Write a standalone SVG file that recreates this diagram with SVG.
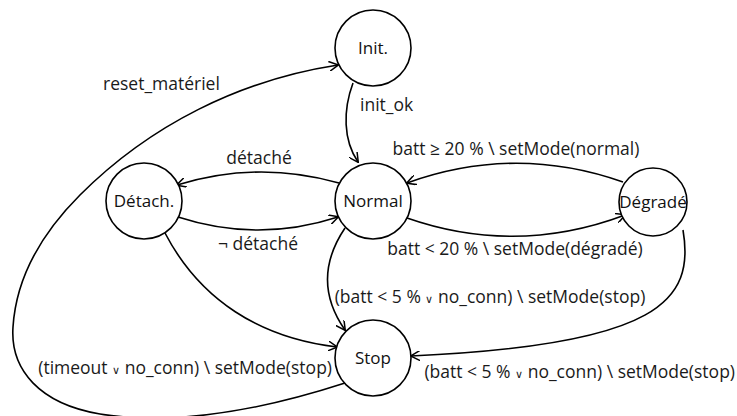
<svg xmlns="http://www.w3.org/2000/svg" width="737" height="416" viewBox="0 0 737 416">
<defs>
<marker id="arr" viewBox="0 0 10 10" refX="9" refY="5" markerWidth="10" markerHeight="10" markerUnits="userSpaceOnUse" orient="auto">
<path d="M0,0 L9.5,5 L0,10" fill="none" stroke="#000" stroke-width="1.5"/>
</marker>
<style>
.n circle{fill:#fff;stroke:#000;stroke-width:1.6}
.n text{font-family:"Open Sans","Noto Sans",sans-serif;font-size:17px;text-anchor:middle;fill:#111}
.e path{fill:none;stroke:#000;stroke-width:1.6;marker-end:url(#arr)}
.l{font-family:"Open Sans","Noto Sans",sans-serif;font-size:17.5px;fill:#1a1a1a}
.v{font-size:11px}
</style>
</defs>
<g id="edges" class="e">
<path d="M353,83 C343,110 343,140 358,162"/>
<path d="M339,183 Q258,160 177,185"/>
<path d="M178,217 Q258,243 338,217"/>
<path d="M623,182 Q515,144 407,183"/>
<path d="M407,218 Q516,256 625,215"/>
<path d="M345,228 Q310,280 345,330"/>
<path d="M165,233 C200,300 260,338 337,347"/>
<path d="M683,230 C695,300 660,345 411,356"/>
<path d="M345,383 Q200,430 100,414 C40,404 10,370 13,327 C16,280 40,235 80,195 C150,125 240,80 338,65"/>
</g>
<g id="labels" class="l">
<text x="103" y="90">reset_matériel</text>
<text x="360" y="111">init_ok</text>
<text x="259" y="164" text-anchor="middle">détaché</text>
<text x="258" y="250" text-anchor="middle">¬ détaché</text>
<text x="516" y="155" text-anchor="middle">batt ≥ 20 % \ setMode(normal)</text>
<text x="515" y="255" text-anchor="middle">batt &lt; 20 % \ setMode(dégradé)</text>
<text x="490" y="303" text-anchor="middle">(batt &lt; 5 % <tspan class="v">∨</tspan> no_conn) \ setMode(stop)</text>
<text x="332" y="374" text-anchor="end">(timeout <tspan class="v">∨</tspan> no_conn) \ setMode(stop)</text>
<text x="735" y="378" text-anchor="end">(batt &lt; 5 % <tspan class="v">∨</tspan> no_conn) \ setMode(stop)</text>
</g>
<g id="Init" class="n"><circle cx="373" cy="48" r="38"/><text x="373" y="54">Init.</text></g>
<g id="Normal" class="n"><circle cx="373" cy="201" r="38"/><text x="373" y="207">Normal</text></g>
<g id="Detach" class="n"><circle cx="144" cy="201" r="38"/><text x="144" y="207">Détach.</text></g>
<g id="Degrade" class="n"><circle cx="653" cy="202" r="34"/><text x="653" y="208">Dégradé</text></g>
<g id="Stop" class="n"><circle cx="373" cy="358" r="38"/><text x="373" y="364">Stop</text></g>
</svg>
